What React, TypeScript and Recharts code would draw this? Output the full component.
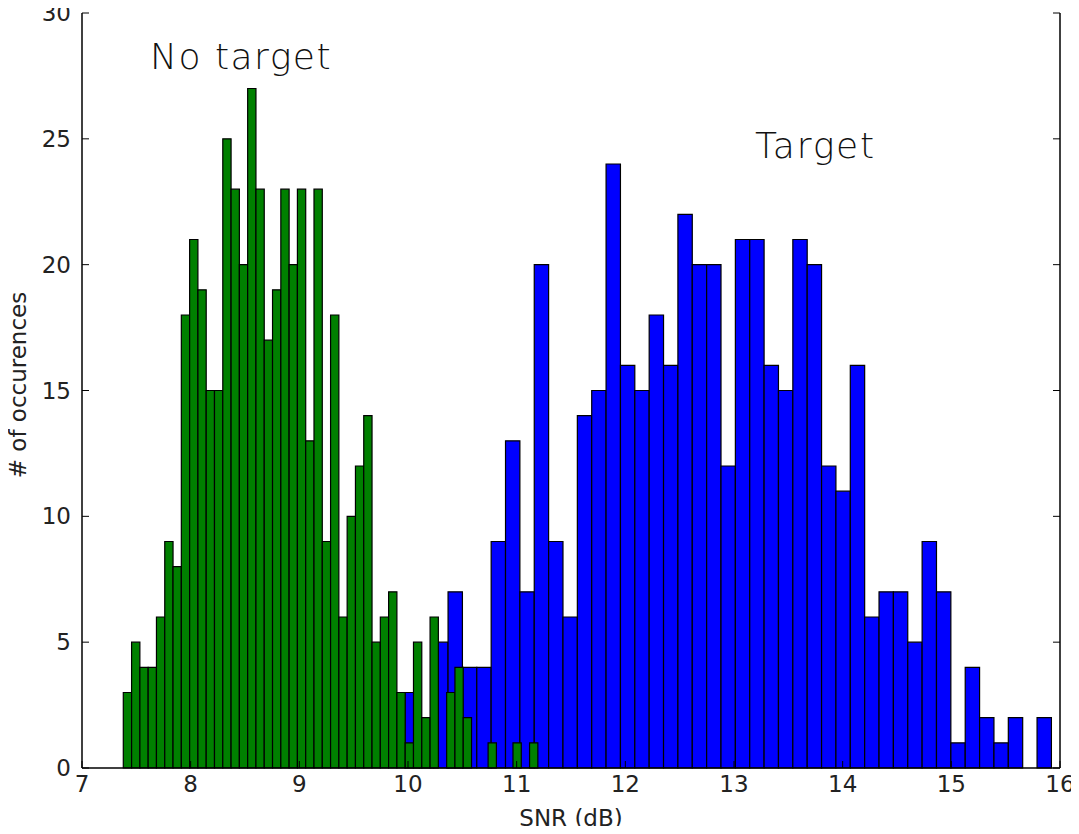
import React from 'react';
import { ComposedChart, XAxis, YAxis, ReferenceArea, Customized } from 'recharts';

// Histogram of SNR (dB): "No target" bins
const noTargetStart = 7.38;
const noTargetBinWidth = 0.0763;
const noTargetCounts = [
  3, 5, 4, 4, 6, 9, 8, 18, 21, 19,
  15, 15, 25, 23, 20, 27, 23, 17, 19, 23,
  20, 23, 13, 23, 9, 18, 6, 10, 12, 14,
  5, 6, 7, 3, 1, 5, 2, 6, 0, 3,
  4, 2, 0, 0, 1, 0, 0, 1, 0, 1,
];

// Histogram of SNR (dB): "Target" bins
const targetStart = 9.972;
const targetBinWidth = 0.1322;
const targetCounts = [
  3, 2, 5, 7, 4, 4, 9, 13, 7, 20,
  9, 6, 14, 15, 24, 16, 15, 18, 16, 22,
  20, 20, 12, 21, 21, 16, 15, 21, 20, 12,
  11, 16, 6, 7, 7, 5, 9, 7, 1, 4,
  2, 1, 2, 0, 2,
];

const xTicks = [7, 8, 9, 10, 11, 12, 13, 14, 15, 16];
const yTicks = [0, 5, 10, 15, 20, 25, 30];

const xLabel = 'SNR (dB)';
const yLabel = '# of occurences';
const noTargetLabel = 'No target';
const targetLabel = 'Target';

type Bin = { x0: number; x1: number; count: number };

const toBins = (start: number, width: number, counts: number[]): Bin[] =>
  counts.map((count, i) => ({ x0: start + i * width, x1: start + (i + 1) * width, count }));

const noTargetBins = toBins(noTargetStart, noTargetBinWidth, noTargetCounts);
const targetBins = toBins(targetStart, targetBinWidth, targetCounts);

const FONT = '"DejaVu Sans", sans-serif';
const TEXT_COLOR = '#222';
const TICK_LEN = 7;

const BottomTick = (props: any) => {
  const { x, y, payload } = props;
  return (
    <g>
      <line x1={x} y1={y} x2={x} y2={y - TICK_LEN} stroke="#000" strokeWidth={1} />
      <text x={x} y={y + 24} textAnchor="middle" fontFamily={FONT} fontSize={23} fill={TEXT_COLOR}>
        {payload.value}
      </text>
    </g>
  );
};

const TopTick = (props: any) => {
  const { x, y } = props;
  return <line x1={x} y1={y} x2={x} y2={y + TICK_LEN} stroke="#000" strokeWidth={1} />;
};

const LeftTick = (props: any) => {
  const { x, y, payload } = props;
  return (
    <g>
      <line x1={x} y1={y} x2={x + TICK_LEN} y2={y} stroke="#000" strokeWidth={1} />
      <text x={x - 11} y={y + 8} textAnchor="end" fontFamily={FONT} fontSize={23} fill={TEXT_COLOR}>
        {payload.value}
      </text>
    </g>
  );
};

const RightTick = (props: any) => {
  const { x, y } = props;
  return <line x1={x} y1={y} x2={x - TICK_LEN} y2={y} stroke="#000" strokeWidth={1} />;
};

const Annotations = () => (
  <g>
    <text x={150} y={69} fontFamily={FONT} fontSize={36} fontWeight={300} letterSpacing={1.5} fill="#111">
      {noTargetLabel}
    </text>
    <text x={755} y={158} fontFamily={FONT} fontSize={36} fontWeight={300} letterSpacing={1.8} fill="#111">
      {targetLabel}
    </text>
    <text x={571} y={826} textAnchor="middle" fontFamily={FONT} fontSize={23} fill={TEXT_COLOR}>
      {xLabel}
    </text>
    <text
      x={26}
      y={385}
      textAnchor="middle"
      fontFamily={FONT}
      fontSize={23}
      fill={TEXT_COLOR}
      transform="rotate(-90 26 385)"
    >
      {yLabel}
    </text>
  </g>
);

const barStroke = { stroke: '#000', strokeWidth: 1.2, fillOpacity: 1, strokeOpacity: 1 };

export default function App() {
  return (
    <div style={{ width: 1079, height: 834, margin: -8, background: '#fff' }}>
      <ComposedChart
        width={1079}
        height={834}
        data={targetBins}
        margin={{ top: 13, right: 0, bottom: 0, left: 0 }}
      >
        <XAxis
          xAxisId={0}
          type="number"
          dataKey="x0"
          domain={[7, 16]}
          ticks={xTicks}
          allowDataOverflow
          height={66}
          tickSize={0}
          tickMargin={0}
          tickLine={false}
          axisLine={{ stroke: '#000', strokeWidth: 1.5 }}
          tick={<BottomTick />}
          interval={0}
        />
        <XAxis
          xAxisId="top"
          orientation="top"
          type="number"
          dataKey="x0"
          domain={[7, 16]}
          ticks={xTicks}
          allowDataOverflow
          height={0}
          tickSize={0}
          tickMargin={0}
          tickLine={false}
          axisLine={{ stroke: '#000', strokeWidth: 1.5 }}
          tick={<TopTick />}
          interval={0}
        />
        <YAxis
          yAxisId={0}
          type="number"
          domain={[0, 30]}
          ticks={yTicks}
          allowDataOverflow
          width={82}
          tickSize={0}
          tickMargin={0}
          tickLine={false}
          axisLine={{ stroke: '#000', strokeWidth: 1.5 }}
          tick={<LeftTick />}
          interval={0}
        />
        <YAxis
          yAxisId="right"
          orientation="right"
          type="number"
          domain={[0, 30]}
          ticks={yTicks}
          allowDataOverflow
          width={19}
          tickSize={0}
          tickMargin={0}
          tickLine={false}
          axisLine={{ stroke: '#000', strokeWidth: 1.5 }}
          tick={<RightTick />}
          interval={0}
        />
        {targetBins
          .filter((b) => b.count > 0)
          .map((b, i) => (
            <ReferenceArea
              key={`t-${i}`}
              xAxisId={0}
              yAxisId={0}
              x1={b.x0}
              x2={b.x1}
              y1={0}
              y2={b.count}
              fill="#0000ff"
              {...barStroke}
            />
          ))}
        {noTargetBins
          .filter((b) => b.count > 0)
          .map((b, i) => (
            <ReferenceArea
              key={`n-${i}`}
              xAxisId={0}
              yAxisId={0}
              x1={b.x0}
              x2={b.x1}
              y1={0}
              y2={b.count}
              fill="#008000"
              {...barStroke}
            />
          ))}
        <Customized component={<Annotations />} />
      </ComposedChart>
    </div>
  );
}
